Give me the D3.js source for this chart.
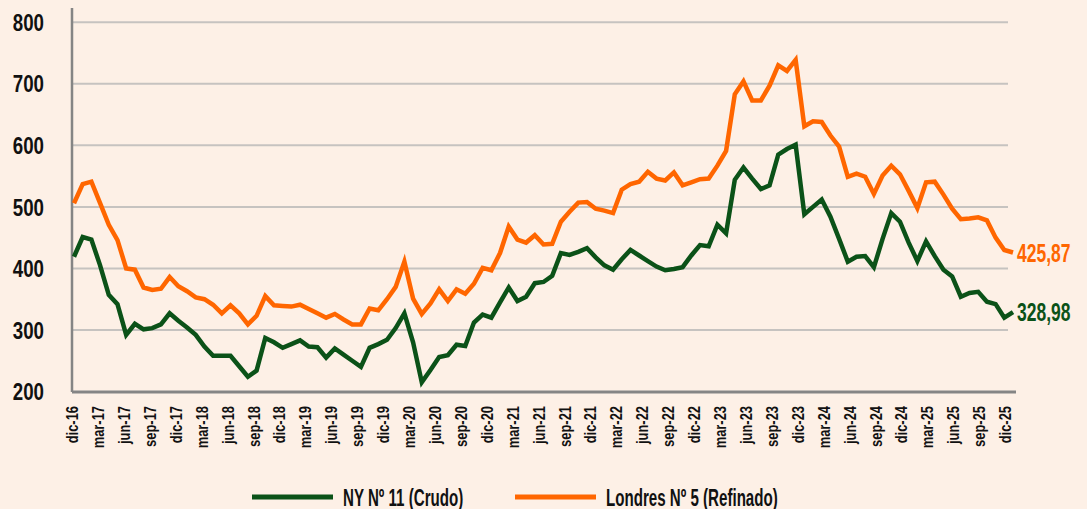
<!DOCTYPE html>
<html>
<head>
<meta charset="utf-8">
<script src="https://cdn.jsdelivr.net/npm/d3@7"></script>
<style>
  html, body { margin: 0; padding: 0; background: #fdf0e6; }
  svg { display: block; }
  text { font-family: "Liberation Sans", Arial, sans-serif; font-weight: bold; }
</style>
</head>
<body>
<svg id="chart" width="1087" height="509"></svg>
<script>
// tick labels (every third month, dic-16 .. dic-25)
var tickLabels = [
  'dic-16', 'mar-17', 'jun-17', 'sep-17', 'dic-17', 'mar-18', 'jun-18', 'sep-18',
  'dic-18', 'mar-19', 'jun-19', 'sep-19', 'dic-19', 'mar-20', 'jun-20', 'sep-20',
  'dic-20', 'mar-21', 'jun-21', 'sep-21', 'dic-21', 'mar-22', 'jun-22', 'sep-22',
  'dic-22', 'mar-23', 'jun-23', 'sep-23', 'dic-23', 'mar-24', 'jun-24', 'sep-24',
  'dic-24', 'mar-25', 'jun-25', 'sep-25', 'dic-25'
];

var yTicks = [200, 300, 400, 500, 600, 700, 800];

// monthly prices, dic-16 .. dic-25
var crudo = [
  419, 451, 447, 405, 357, 342, 292, 310, 301, 303, 309, 327, 315, 304, 292, 273,
  258, 258, 258, 241, 224, 234, 287, 280, 271, 277, 283, 273, 272, 255, 270, 260,
  250, 240, 271, 277, 284, 303, 327, 280, 215, 235, 256, 259, 276, 274, 312, 325,
  320, 345, 369, 347, 354, 376, 378, 388, 425, 422, 427, 433, 418, 405, 398, 415,
  430, 421, 412, 403, 397, 399, 402, 421, 438, 436, 471, 457, 544, 564, 546, 529,
  535, 585, 594, 601, 488, 500, 512, 484, 448, 411, 419, 420, 402, 448, 490, 476,
  442, 412, 444, 420, 398, 387, 354, 360, 362, 346, 342, 320, 328.98
];

var refinado = [
  506, 537, 541, 506, 471, 446, 400, 398, 369, 365, 367, 386, 371, 363, 353, 350,
  341, 327, 340, 327, 309, 323, 355, 340, 339, 338, 341, 334, 327, 320, 326, 317,
  309, 309, 335, 332, 350, 370, 411, 351, 326, 343, 366, 347, 366, 359, 375, 401,
  397, 425, 468, 447, 442, 454, 439, 440, 476, 492, 507, 508, 497, 494, 490, 528,
  537, 541, 557, 546, 543, 556, 535, 540, 545, 546, 567, 591, 683, 704, 673, 673,
  697, 730, 721, 739, 631, 639, 638, 616, 598, 549, 554, 549, 521, 551, 567, 553,
  526, 498, 540, 541, 520, 497, 480, 481, 483, 478, 450, 430, 425.87
];

var series = [
  { name: 'NY Nº 11 (Crudo)', values: crudo, color: '#0b5218' },
  { name: 'Londres Nº 5 (Refinado)', values: refinado, color: '#ff6600' }
];

var svg = d3.select('#chart');

var x = d3.scaleLinear().domain([0, crudo.length - 1]).range([74, 1013]);
var xLabel = d3.scaleLinear().domain([0, crudo.length - 1]).range([72, 1005]);
var y = d3.scaleLinear().domain([200, 800]).range([391.5, 22.3]);

// condensed look: squeeze text along its baseline
function squeeze(sel, sx, rot) {
  sel.each(function() {
    var t = d3.select(this);
    var tx = +t.attr('x') || 0;
    var ty = +t.attr('y') || 0;
    t.attr('x', 0).attr('y', 0)
      .attr('transform', 'translate(' + tx + ',' + ty + ')' + (rot ? ' rotate(' + rot + ')' : '') + ' scale(' + sx + ',1)');
  });
}

// gridlines
svg.append('g')
  .selectAll('line')
  .data(yTicks.slice(1))
  .enter()
  .append('line')
  .attr('x1', 72)
  .attr('x2', 1008)
  .attr('y1', function(d) { return y(d); })
  .attr('y2', function(d) { return y(d); })
  .attr('stroke', '#c6c3c0')
  .attr('stroke-width', 2);

// y axis
var yAxis = svg.append('g')
  .call(d3.axisLeft(y).tickValues(yTicks).tickSize(0).tickFormat(d3.format('d')));
yAxis.select('.domain').remove();
yAxis.selectAll('.tick').attr('transform', null);
yAxis.selectAll('text')
  .attr('fill', '#111')
  .attr('text-anchor', 'end')
  .attr('dy', '0.36em')
  .attr('x', 44)
  .attr('y', function(d) { return y(d); })
  .style('font-size', '24px')
  .call(squeeze, 0.78);

svg.append('line')
  .attr('x1', 72).attr('x2', 72)
  .attr('y1', 8).attr('y2', 392)
  .attr('stroke', '#858585')
  .attr('stroke-width', 2.5);

// x axis
var tickIdx = tickLabels.map(function(d, i) { return i * 3; });
var xAxis = svg.append('g')
  .call(d3.axisBottom(xLabel).tickValues(tickIdx).tickSize(0)
    .tickFormat(function(d, i) { return tickLabels[i]; }));
xAxis.select('.domain').remove();
xAxis.selectAll('.tick').attr('transform', null);
xAxis.selectAll('text')
  .attr('fill', '#111')
  .style('font-size', '17px')
  .attr('text-anchor', 'end')
  .attr('dy', '0.36em')
  .attr('x', function(d) { return xLabel(d); })
  .attr('y', 406)
  .call(squeeze, 0.76, -90);

svg.append('line')
  .attr('x1', 72).attr('x2', 1016)
  .attr('y1', 392).attr('y2', 392)
  .attr('stroke', '#858585')
  .attr('stroke-width', 3);

// lines
var line = d3.line()
  .x(function(d, i) { return x(i); })
  .y(function(d) { return y(d); });

svg.append('g')
  .selectAll('path')
  .data(series)
  .enter()
  .append('path')
  .attr('d', function(d) { return line(d.values); })
  .attr('fill', 'none')
  .attr('stroke', function(d) { return d.color; })
  .attr('stroke-width', 4.5)
  .attr('stroke-linejoin', 'miter');

// end labels
svg.append('g')
  .selectAll('text')
  .data(series)
  .enter()
  .append('text')
  .attr('x', 1017)
  .attr('y', function(d) { return y(d.values[d.values.length - 1]); })
  .attr('dy', '0.36em')
  .attr('fill', function(d) { return d.color; })
  .style('font-size', '25px')
  .text(function(d) { return d3.format('.2f')(d.values[d.values.length - 1]).replace('.', ','); })
  .call(squeeze, 0.7);

// legend
var legendX = [252, 515];
var legend = svg.append('g')
  .selectAll('g')
  .data(series)
  .enter()
  .append('g')
  .attr('transform', function(d, i) { return 'translate(' + legendX[i] + ',497)'; });

legend.append('line')
  .attr('x1', 0).attr('x2', 81)
  .attr('stroke', function(d) { return d.color; })
  .attr('stroke-width', 5);

legend.append('text')
  .attr('x', 91)
  .attr('y', 0)
  .attr('dy', '0.36em')
  .attr('fill', '#111')
  .style('font-size', '24px')
  .text(function(d) { return d.name; })
  .call(squeeze, 0.63);
</script>
</body>
</html>
